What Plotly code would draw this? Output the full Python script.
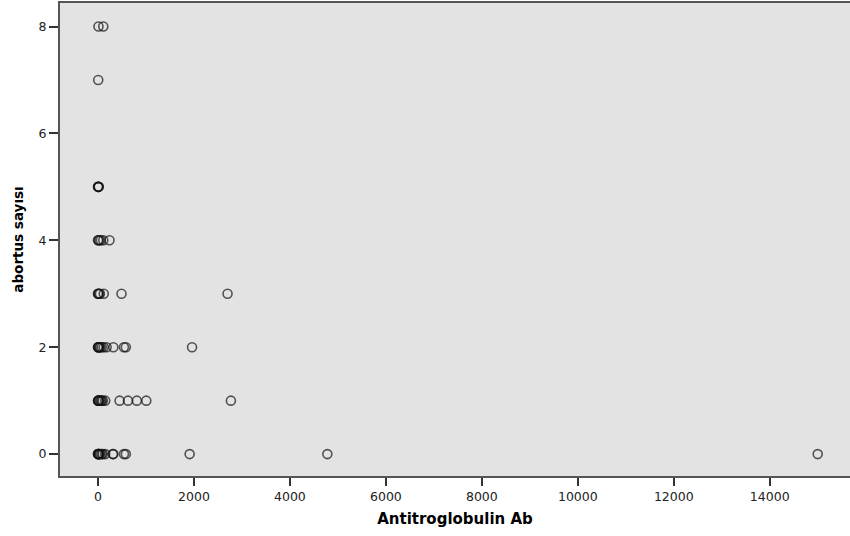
import plotly.graph_objects as go

# abortus sayısı levels and Antitroglobulin Ab values
x_y0 = [0, 0, 5, 10, 20, 30, 50, 80, 100, 150, 310, 320, 540, 580, 1910, 4780, 15000]
x_y1 = [0, 5, 10, 20, 40, 60, 80, 100, 150, 450, 625, 810, 1006, 2770]
x_y2 = [0, 5, 10, 15, 30, 50, 80, 120, 180, 320, 540, 580, 1960]
x_y3 = [0, 5, 20, 40, 120, 490, 2700]
x_y4 = [0, 10, 30, 60, 110, 240]
x_y5 = [0, 5, 10, 15]
x_y7 = [5]
x_y8 = [10, 110]

groups = [(0, x_y0), (1, x_y1), (2, x_y2), (3, x_y3), (4, x_y4), (5, x_y5), (7, x_y7), (8, x_y8)]
xs, ys = [], []
for yv, xl in groups:
    xs += xl
    ys += [yv] * len(xl)

x_ticks = [0, 2000, 4000, 6000, 8000, 10000, 12000, 14000]
y_ticks = [0, 2, 4, 6, 8]

fig = go.Figure()
fig.add_trace(go.Scatter(
    x=xs, y=ys, mode="markers",
    marker=dict(symbol="circle-open", size=9, color="rgba(20,20,20,0.7)",
                line=dict(width=1.6, color="rgba(20,20,20,0.7)")),
    hoverinfo="x+y", showlegend=False,
))

axis_line = "#555555"
fig.update_layout(
    width=850, height=536,
    margin=dict(l=60, r=0, t=3, b=60),
    paper_bgcolor="white", plot_bgcolor="#E3E3E3",
    font=dict(family="DejaVu Sans", size=12, color="#222222"),
    xaxis=dict(
        range=[-792, 15673], tickvals=x_ticks, ticktext=[str(v) for v in x_ticks],
        showgrid=False, zeroline=False,
        showline=True, linecolor=axis_line, linewidth=2, mirror=True,
        ticks="outside", ticklen=8, tickwidth=1.5, tickcolor="#333333",
        tickfont=dict(size=12.5, color="#222222"),
        title=dict(text="<b>Antitroglobulin Ab</b>", standoff=10,
                   font=dict(family="DejaVu Sans", size=15, color="black")),
        automargin=False,
    ),
    yaxis=dict(
        range=[-0.41, 8.44], tickvals=y_ticks, ticktext=[str(v) for v in y_ticks],
        showgrid=False, zeroline=False,
        showline=True, linecolor=axis_line, linewidth=2,
        ticks="outside", ticklen=9, tickwidth=1.5, tickcolor="#333333",
        tickfont=dict(size=12.5, color="#222222"),
        title=dict(text="<b>abortus sayısı</b>", standoff=12,
                   font=dict(family="DejaVu Sans", size=13.5, color="black")),
        automargin=False,
    ),
)

fig.write_html("out.html")
